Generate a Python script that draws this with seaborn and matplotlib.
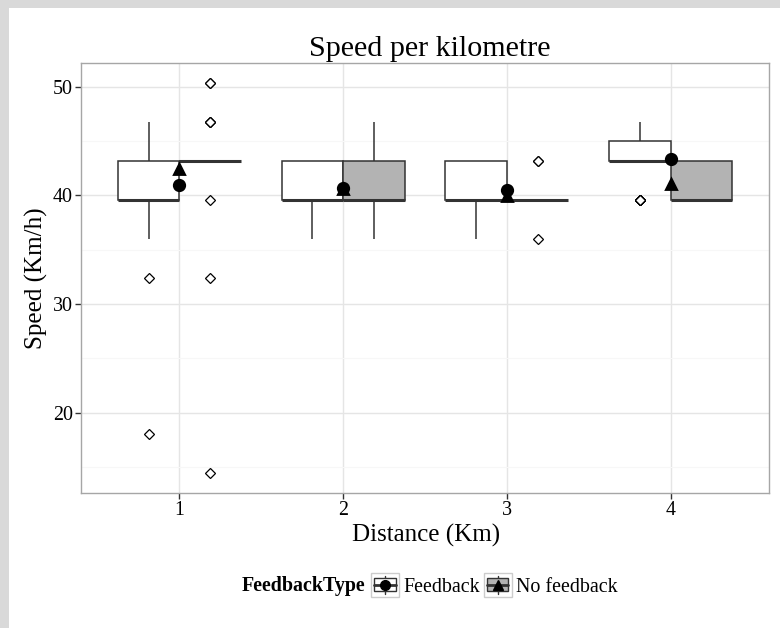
import numpy as np
import pandas as pd
import matplotlib.pyplot as plt
import seaborn as sns
from matplotlib.patches import Rectangle
from matplotlib.lines import Line2D
from matplotlib.legend_handler import HandlerBase
from matplotlib.ticker import MultipleLocator

# speeds are multiples of 3.6 km/h; counts of riders at each level
speed_levels = [14.4, 18.0, 32.4, 36.0, 39.6, 43.2, 46.8, 50.4]
distances = ["1", "2", "3", "4"]
feedback_types = ["Feedback", "No feedback"]

fb_km1 = [0, 1, 1, 1, 14, 6, 7, 0]
nofb_km1 = [1, 0, 1, 0, 1, 15, 3, 2]
fb_km2 = [0, 0, 0, 1, 5, 4, 0, 0]
nofb_km2 = [0, 0, 0, 2, 7, 4, 1, 0]
fb_km3 = [0, 0, 0, 1, 7, 4, 0, 0]
nofb_km3 = [0, 0, 0, 1, 8, 2, 0, 0]
fb_km4 = [0, 0, 0, 0, 6, 14, 7, 0]
nofb_km4 = [0, 0, 0, 0, 7, 5, 0, 0]

groups = [
    ("1", "Feedback", fb_km1), ("1", "No feedback", nofb_km1),
    ("2", "Feedback", fb_km2), ("2", "No feedback", nofb_km2),
    ("3", "Feedback", fb_km3), ("3", "No feedback", nofb_km3),
    ("4", "Feedback", fb_km4), ("4", "No feedback", nofb_km4),
]
rows = []
for dist, fbt, counts in groups:
    for v in np.repeat(speed_levels, counts):
        rows.append((dist, fbt, v))
df = pd.DataFrame(rows, columns=["Distance", "FeedbackType", "Speed"])

fills = {"Feedback": "white", "No feedback": "#b3b3b3"}
markers = {"Feedback": "o", "No feedback": "^"}
line_col = "#333333"

sns.set_theme(style="white")
plt.rcParams["font.family"] = ["Liberation Serif", "DejaVu Serif"]
plt.rcParams["text.color"] = "black"

fig = plt.figure(figsize=(7.8, 6.28), dpi=100)
fig.patch.set_facecolor("#d9d9d9")
fig.patches.append(Rectangle((9 / 780, 0), 1, 1 - 8 / 628, transform=fig.transFigure,
                             facecolor="white", edgecolor="none", zorder=-1))
ax = fig.add_axes([81 / 780, 1 - 493 / 628, 688 / 780, 430 / 628])

sns.boxplot(data=df, x="Distance", y="Speed", hue="FeedbackType", order=distances,
            hue_order=feedback_types, palette=fills, width=0.75, gap=0, linecolor=line_col,
            linewidth=1.1, showcaps=False, legend=False, ax=ax,
            medianprops=dict(linewidth=2.2),
            flierprops=dict(marker="D", markersize=4.6, markerfacecolor="white",
                            markeredgecolor="black", markeredgewidth=0.9))
sns.pointplot(data=df, x="Distance", y="Speed", hue="FeedbackType", order=distances,
              hue_order=feedback_types, estimator="mean", errorbar=None, dodge=False,
              markers=["o", "^"], linestyles="none", palette=["black", "black"],
              markersize=7.5, legend=False, ax=ax, zorder=5)

ax.set_xlim(-0.6, 3.6)
ax.set_ylim(12.6, 52.2)
ax.yaxis.set_major_locator(MultipleLocator(10))
ax.yaxis.set_minor_locator(MultipleLocator(5))
ax.grid(True, which="major", color="#e5e5e5", linewidth=1.0)
ax.yaxis.grid(True, which="minor", color="#f7f7f7", linewidth=0.8)
ax.set_axisbelow(True)
for s in ax.spines.values():
    s.set_color("#a6a6a6")
    s.set_linewidth(1.0)
ax.tick_params(which="major", length=4, width=1, color=line_col, labelsize=14.4,
               labelcolor="black", pad=2, left=True, bottom=True)
ax.tick_params(which="minor", length=0)
ax.set_xlabel("")
ax.set_ylabel("")

fig.text(430 / 780, 1 - 56 / 628, "Speed per kilometre", fontsize=21.6, ha="center",
         va="baseline", color="black")
fig.text(426 / 780, 1 - 535 / 628, "Distance (Km)", fontsize=18, ha="center", va="center",
         color="black")
fig.text(36 / 780, 1 - 278 / 628, "Speed (Km/h)", fontsize=18, rotation=90, ha="center",
         va="center", color="black")


class BoxKey:
    def __init__(self, fill, marker):
        self.fill = fill
        self.marker = marker


class BoxKeyHandler(HandlerBase):
    def create_artists(self, legend, orig_handle, xd, yd, width, height, fontsize, trans):
        x0, y0 = -xd, -yd
        cx, cy = x0 + width / 2, y0 + height / 2
        bg = Rectangle((x0, y0), width, height, facecolor="white", edgecolor="#cccccc",
                       linewidth=1.0, transform=trans)
        wh = Line2D([cx, cx], [y0 + 0.1 * height, y0 + 0.9 * height], color=line_col,
                    linewidth=1.0, transform=trans)
        box = Rectangle((x0 + 0.12 * width, y0 + 0.22 * height), 0.76 * width, 0.56 * height,
                        facecolor=orig_handle.fill, edgecolor=line_col, linewidth=1.0,
                        transform=trans)
        med = Line2D([x0 + 0.12 * width, x0 + 0.88 * width], [cy, cy], color=line_col,
                     linewidth=2.0, transform=trans)
        pt = Line2D([cx], [cy], marker=orig_handle.marker, color="black", markersize=7,
                    linestyle="none", transform=trans)
        return [bg, wh, box, med, pt]


handles = [BoxKey(fills[f], markers[f]) for f in feedback_types]
fig.text(365 / 780, 1 - 586 / 628, "FeedbackType", fontsize=14.4, fontweight="bold",
         ha="right", va="center", color="black")
leg = fig.legend(handles, feedback_types, handler_map={BoxKey: BoxKeyHandler()},
                 loc="center left", bbox_to_anchor=(371 / 780, 1 - 585 / 628), ncol=2,
                 frameon=False, fontsize=14.4, handlelength=1.4, handleheight=1.4,
                 handletextpad=0.2, columnspacing=0.2, borderpad=0, borderaxespad=0)
for t in leg.get_texts():
    t.set_color("black")

fig.savefig("out.png", dpi=100)
